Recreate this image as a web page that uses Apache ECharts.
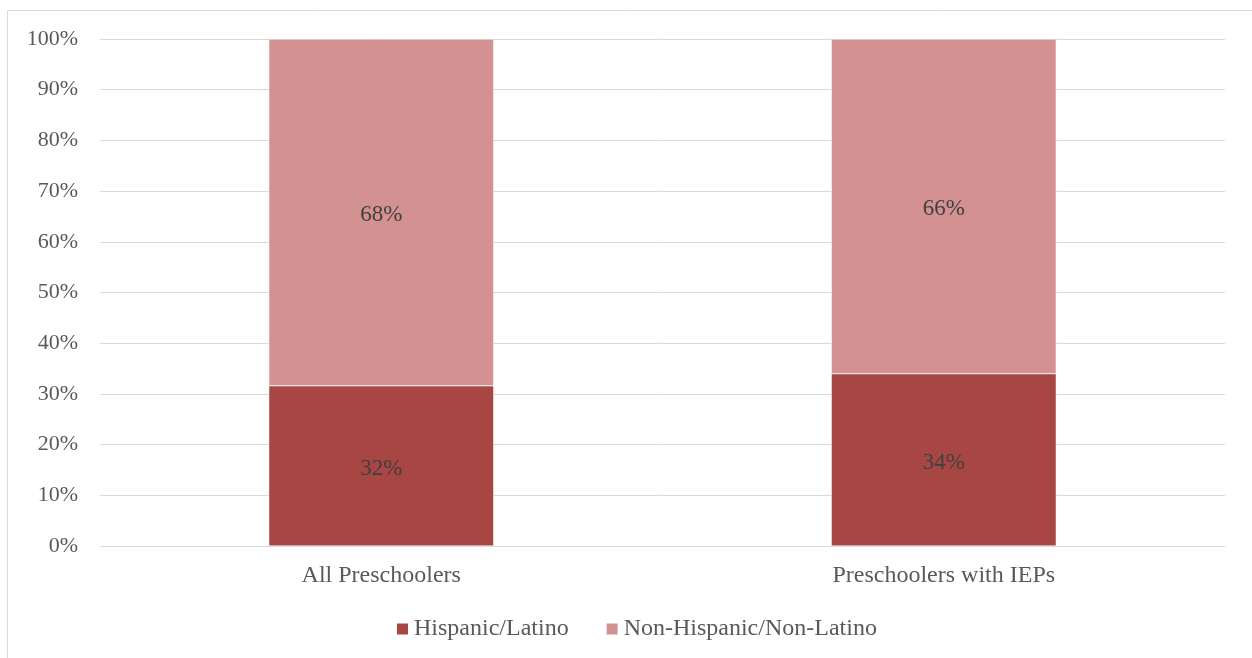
<!DOCTYPE html>
<html>
<head>
<meta charset="utf-8">
<script src="https://cdn.jsdelivr.net/npm/echarts@6/dist/echarts.min.js"></script>
<style>
html,body{margin:0;padding:0;background:#fff;}
#chart{width:1252px;height:658px;}
</style>
</head>
<body>
<div id="chart"></div>
<script>
const categories = ['All Preschoolers', 'Preschoolers with IEPs'];
const hispanic = [31.6, 34.0];
const nonHispanic = [68.4, 66.0];
const seriesNames = ['Hispanic/Latino', 'Non-Hispanic/Non-Latino'];

const FONT = '"Liberation Serif", "Times New Roman", serif';
const TXT = '#595959';
const chart = echarts.init(document.getElementById('chart'));
const labelCfg = {
  show: true, position: 'inside', color: '#404040', fontFamily: FONT, fontSize: 23,
  offset: [0, 3],
  formatter: p => Math.round(p.value) + '%'
};
chart.setOption({
  animation: false,
  graphic: [{
    type: 'rect', shape: {x: 7.5, y: 10.5, width: 1400, height: 800},
    style: {fill: 'none', stroke: '#d9d9d9', lineWidth: 1}, silent: true
  }],
  grid: {left: 100, right: 27, top: 39, bottom: 112, containLabel: false},
  legend: {
    data: seriesNames, left: 390, top: 612, itemWidth: 13, itemHeight: 13, itemGap: 36,
    icon: 'rect',
    textStyle: {color: TXT, fontFamily: FONT, fontSize: 24}
  },
  xAxis: {
    type: 'category', data: categories,
    axisLine: {lineStyle: {color: '#d9d9d9', width: 1}},
    axisTick: {show: false},
    axisLabel: {color: TXT, fontFamily: FONT, fontSize: 24, margin: 18}
  },
  yAxis: {
    type: 'value', min: 0, max: 100, interval: 10,
    axisLabel: {color: TXT, fontFamily: FONT, fontSize: 22, margin: 22, formatter: '{value}%', padding: [4, 0, 0, 0]},
    splitLine: {lineStyle: {color: '#d9d9d9', width: 1}},
    axisLine: {show: false}, axisTick: {show: false}
  },
  series: [
    {name: seriesNames[0], type: 'bar', stack: 'a', data: hispanic, barWidth: '40%',
     itemStyle: {color: '#A84644', borderColor: '#ffffff', borderWidth: 0.5}, label: labelCfg},
    {name: seriesNames[1], type: 'bar', stack: 'a', data: nonHispanic, barWidth: '40%',
     itemStyle: {color: '#D39291', borderColor: '#ffffff', borderWidth: 0.5}, label: labelCfg}
  ]
});
</script>
</body>
</html>
